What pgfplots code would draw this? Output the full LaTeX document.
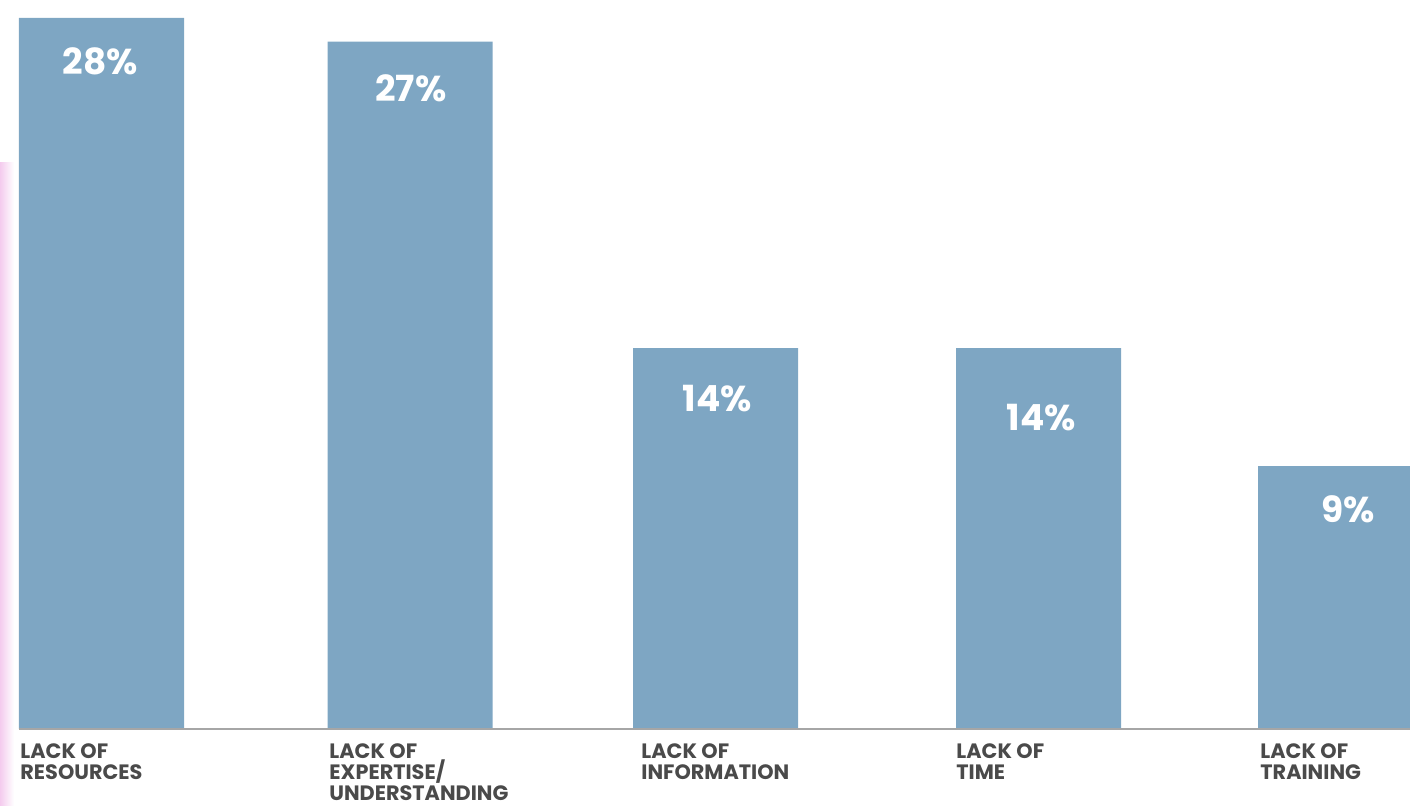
\documentclass[border=0pt]{standalone}
\usepackage{pgfplots}
\pgfplotsset{compat=1.18}
\usepackage{pgfplotstable}
\usepackage{fontspec}
\setmainfont{Poppins}

\definecolor{barblue}{HTML}{7EA6C3}
\definecolor{labelgray}{HTML}{4A4A4A}
\definecolor{edgepink}{HTML}{F4CBEE}

% x = bar centre (px of the reference), v = share in %, dx/dy = label nudge in pt
\pgfplotstableread{
x      v   dx    dy
101.5  28  -0.5  14.5
410    27   0.5  16.5
715.5  14   1.0  18.5
1038.5 14   1.5  28
1340.5  9   4.0  14.5
}\shares

\begin{document}
\begin{tikzpicture}
\begin{axis}[
    at={(0,0)}, anchor=south west,
    scale only axis,
    width=705pt, height=403pt,
    xmin=0, xmax=1410,
    ymin=-3.264, ymax=30.903,
    axis line style={draw=none},
    xtick=\empty, ytick=\empty,
    clip=true,
    /pgf/number format/assume math mode=true,
]
% faint pink glow on the left edge
\fill[left color=edgepink, right color=white, draw=none]
    (axis cs:0,-3.264) rectangle (axis cs:14,24);

\addplot[ybar, fill=barblue, draw=none, bar width=82.5pt,
    point meta=explicit,
    visualization depends on={\thisrow{dx} \as \dx},
    visualization depends on={\thisrow{dy} \as \dy},
    nodes near coords={\pgfmathprintnumber{\pgfplotspointmeta}\%},
    every node near coord/.append style={anchor=north, inner sep=0pt,
        text=white, font=\fontsize{18}{20}\selectfont\bfseries,
        xshift=\dx pt, yshift=-\dy pt},
] table[x=x, y expr=\thisrow{v}+2.14, meta=v] {\shares};

\draw[gray!70, line width=1pt] (axis cs:19,0) -- (axis cs:1410,0);

\begin{scope}[every node/.style={anchor=north west, inner sep=0pt, align=left,
        text=labelgray, font=\fontsize{10.4}{10.5}\selectfont\bfseries, yshift=-7pt}]
\node at (axis cs:20,0)   {LACK OF\\RESOURCES};
\node at (axis cs:329,0)  {LACK OF\\EXPERTISE/\\UNDERSTANDING};
\node at (axis cs:641,0)  {LACK OF\\INFORMATION};
\node at (axis cs:956,0)  {LACK OF\\TIME};
\node at (axis cs:1260,0) {LACK OF\\TRAINING};
\end{scope}
\end{axis}
\pgfresetboundingbox
\useasboundingbox (0,0) rectangle (705pt,403pt);
\end{tikzpicture}
\end{document}
